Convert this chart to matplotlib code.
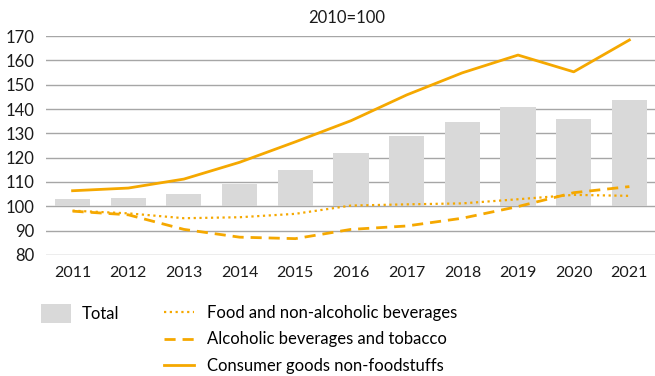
import matplotlib.pyplot as plt
from matplotlib.patches import Patch
from matplotlib.lines import Line2D

plt.rcParams['font.family'] = ['Lato', 'DejaVu Sans']

years = ['2011', '2012', '2013', '2014', '2015', '2016', '2017', '2018', '2019', '2020', '2021']
total = [103.0, 103.5, 105.0, 109.2, 115.0, 122.0, 128.9, 134.7, 141.0, 135.9, 143.7]
food = [98.2, 97.1, 95.1, 95.5, 96.9, 100.3, 100.8, 101.2, 102.9, 104.7, 104.3]
alcohol = [98.0, 96.5, 90.5, 87.3, 86.7, 90.5, 91.9, 95.1, 99.9, 105.6, 108.1]
nonfood = [106.4, 107.5, 111.2, 118.1, 126.5, 135.2, 145.8, 154.9, 162.2, 155.3, 168.4]
base = 100

orange = '#f5a800'
grey_bar = '#d9d9d9'

fig = plt.figure(figsize=(6.55, 3.76), dpi=100)
ax = fig.add_axes([0.070, 0.322, 0.930, 0.582])

x = range(len(years))
ax.bar(x, [t - base for t in total], width=0.63, color=grey_bar, bottom=base, zorder=2)
ax.plot(x, food, color=orange, lw=1.6, ls=(0, (1, 1.6)), zorder=3)
ax.plot(x, alcohol, color=orange, lw=2.0, ls=(0, (4, 2.5)), zorder=3)
ax.plot(x, nonfood, color=orange, lw=2.0, zorder=3)

ax.set_ylim(80, 170)
ax.set_yticks(range(80, 171, 10))
ax.set_xlim(-0.48, 10.46)
ax.set_xticks(list(x))
ax.set_xticklabels(years)
ax.grid(axis='y', color='#a6a6a6', lw=1.0, zorder=1)
for s in ['top', 'right', 'left', 'bottom']:
    ax.spines[s].set_visible(False)
ax.tick_params(length=0, labelsize=12, colors='#1a1a1a')
ax.tick_params(axis='x', pad=8, labelsize=11.5)
ax.tick_params(axis='y', pad=8)

fig.text(0.53, 0.952, '2010=100', ha='center', va='center', fontsize=12, color='#1a1a1a')

# legends below chart (fig.legend keeps both)
h1 = [Patch(facecolor=grey_bar, edgecolor='none')]
fig.legend(h1, ['Total'], loc='upper left', bbox_to_anchor=(0.043, 0.226),
           frameon=False, fontsize=12, handlelength=1.8, handleheight=1.3,
           handletextpad=0.6, borderpad=0.3)
h2 = [Line2D([], [], color=orange, lw=1.6, ls=(0, (1, 1.6))),
      Line2D([], [], color=orange, lw=2.0, ls=(0, (4, 2.5))),
      Line2D([], [], color=orange, lw=2.0)]
fig.legend(h2, ['Food and non-alcoholic beverages', 'Alcoholic beverages and tobacco',
                'Consumer goods non-foodstuffs'],
           loc='upper left', bbox_to_anchor=(0.230, 0.224), frameon=False, fontsize=12,
           handlelength=1.8, handletextpad=0.8, labelspacing=0.62, borderpad=0.3)

fig.savefig('out.png', dpi=100)
